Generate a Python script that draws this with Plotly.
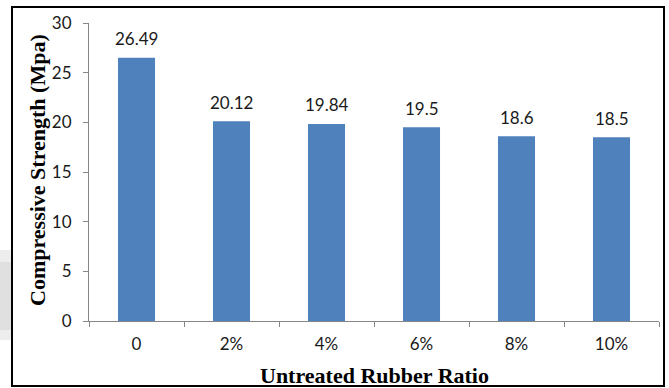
import plotly.graph_objects as go

# Compressive strength versus untreated rubber replacement ratio
ratios = ["0", "2%", "4%", "6%", "8%", "10%"]
strength = [26.49, 20.12, 19.84, 19.5, 18.6, 18.5]
y_ticks = [0, 5, 10, 15, 20, 25, 30]

W, H = 669, 388
L, R, T, B = 89, 10, 23, 67
plot_w = W - L - R
plot_h = H - T - B


def px_to_paper_x(px):
    return (px - L) / plot_w


def px_to_paper_y(py):
    return (H - B - py) / plot_h


label_font = dict(family="Lato", size=17, color="#1a1a1a")
title_font = dict(family="Liberation Serif", size=22, color="black")
axis_grey = "#868686"

fig = go.Figure(
    go.Bar(
        x=ratios,
        y=strength,
        marker=dict(color="#4F81BD", line=dict(width=0)),
        hoverinfo="skip",
    )
)

# value labels above each bar
annotations = [
    dict(
        x=r, y=v, xref="x", yref="y", text=str(v), showarrow=False,
        yanchor="middle", yshift=19, font=label_font,
    )
    for r, v in zip(ratios, strength)
]

annotations.append(
    dict(
        x=px_to_paper_x(37), y=px_to_paper_y(170), xref="paper", yref="paper",
        text="<b>Compressive Strength (Mpa)</b>", textangle=-90, showarrow=False,
        xanchor="center", yanchor="middle", font=title_font,
    )
)
annotations.append(
    dict(
        x=0.5, y=px_to_paper_y(375), xref="paper", yref="paper",
        text="<b>Untreated Rubber Ratio</b>", showarrow=False,
        xanchor="center", yanchor="middle", font=title_font,
    )
)

shapes = [
    # faint shadow left of the frame
    dict(
        type="rect", xref="paper", yref="paper",
        x0=px_to_paper_x(0), x1=px_to_paper_x(11),
        y0=px_to_paper_y(340), y1=px_to_paper_y(250),
        line=dict(width=0), fillcolor="rgba(0,0,0,0.07)", layer="below",
    ),
    dict(
        type="rect", xref="paper", yref="paper",
        x0=px_to_paper_x(0), x1=px_to_paper_x(11),
        y0=px_to_paper_y(330), y1=px_to_paper_y(262),
        line=dict(width=0), fillcolor="rgba(0,0,0,0.05)", layer="below",
    ),
    # outer frame around the chart
    dict(
        type="rect", xref="paper", yref="paper",
        x0=px_to_paper_x(12), x1=px_to_paper_x(664),
        y0=px_to_paper_y(386), y1=px_to_paper_y(7),
        line=dict(color="black", width=2), fillcolor="rgba(0,0,0,0)", layer="above",
    ),
]

fig.update_layout(
    width=W, height=H,
    margin=dict(l=L, r=R, t=T, b=B, pad=0),
    paper_bgcolor="white", plot_bgcolor="white",
    bargap=0.61,
    showlegend=False,
    annotations=annotations,
    shapes=shapes,
    xaxis=dict(
        type="category",
        showline=True, linecolor=axis_grey, linewidth=1,
        ticks="outside", ticklen=5, tickcolor=axis_grey, tickwidth=1,
        tickson="boundaries",
        tickfont=label_font, ticklabelstandoff=8,
        showgrid=False, zeroline=False,
    ),
    yaxis=dict(
        range=[0, 30], tickvals=y_ticks,
        showline=True, linecolor=axis_grey, linewidth=1,
        ticks="outside", ticklen=5, tickcolor=axis_grey, tickwidth=1,
        tickfont=label_font, ticklabelstandoff=8,
        showgrid=False, zeroline=False,
    ),
)

fig.write_html("out.html")
